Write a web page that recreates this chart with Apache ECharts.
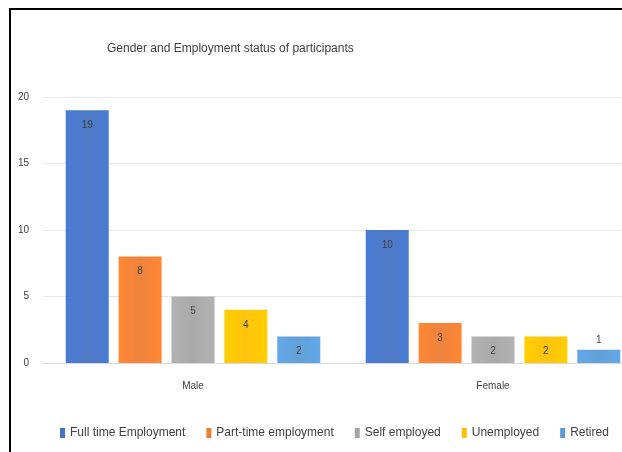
<!DOCTYPE html>
<html lang="en">
  <head>
    <meta charset="UTF-8" />
    <title>Gender and Employment status of participants</title>
    <style>
      html, body { margin: 0; padding: 0; background: #fff; }
      #main { width: 622px; height: 452px; }
    </style>
  </head>
  <body>
    <div id="main"></div>
    <script src="https://cdn.jsdelivr.net/npm/echarts@6/dist/echarts.min.js"></script>
    <script>
      // data
      const genders = ["Male", "Female"];
      const statuses = ["Full time Employment", "Part-time employment", "Self employed", "Unemployed", "Retired"];
      const fullTime = [19, 10];
      const partTime = [8, 3];
      const selfEmployed = [5, 2];
      const unemployed = [4, 2];
      const retired = [2, 1];
      const yTicks = [0, 5, 10, 15, 20];

      const colours = ["#4472C4", "#ED7D31", "#A5A5A5", "#FFC000", "#5B9BD5"];
      const font = "'Liberation Sans', sans-serif";

      const myChart = echarts.init(document.getElementById("main"));

      // slight excel-like shading on bars
      function shade(c) {
        return new echarts.graphic.LinearGradient(0, 0, 1, 0, [
          { offset: 0, color: echarts.color.lift(c, -0.08) },
          { offset: 0.5, color: echarts.color.lift(c, 0.06) },
          { offset: 1, color: echarts.color.lift(c, -0.08) }
        ]);
      }

      const values = [fullTime, partTime, selfEmployed, unemployed, retired];
      const series = statuses.map((name, i) => ({
        name: name,
        type: "bar",
        barWidth: 43,
        barGap: "23%",
        itemStyle: { color: shade(colours[i]) },
        label: {
          show: true,
          position: "insideTop",
          distance: 10,
          color: "#404040",
          fontSize: 10,
          fontFamily: font
        },
        // too-short bars get their label above the bar
        data: values[i].map((v) =>
          v < 2 ? { value: v, label: { position: "top", distance: 4 } } : v
        )
      }));

      const option = {
        animation: false,
        textStyle: { fontFamily: font },
        graphic: [
          {
            type: "rect",
            shape: { x: 10, y: 9, width: 700, height: 500 },
            style: { fill: "none", stroke: "#000", lineWidth: 2 },
            z: 100
          }
        ],
        title: {
          text: "Gender and Employment status of participants",
          left: 102,
          top: 38,
          textStyle: { fontSize: 12, fontWeight: "normal", color: "#404040", fontFamily: font }
        },
        legend: {
          bottom: 8,
          left: 55,
          itemWidth: 5,
          itemHeight: 10,
          itemGap: 21,
          icon: "rect",
          textStyle: { fontSize: 12, color: "#404040", fontFamily: font },
          data: statuses.map((s, i) => ({ name: s, itemStyle: { color: colours[i] } }))
        },
        grid: { left: 43, top: 97, width: 600, height: 266, outerBoundsMode: "none" },
        xAxis: {
          type: "category",
          data: genders,
          axisTick: { show: false },
          axisLine: { lineStyle: { color: "#d9d9d9" } },
          axisLabel: { margin: 18, fontSize: 10, color: "#404040", fontFamily: font }
        },
        yAxis: {
          type: "value",
          min: yTicks[0],
          max: yTicks[yTicks.length - 1],
          interval: 5,
          axisLine: { show: false },
          axisTick: { show: false },
          splitLine: { lineStyle: { color: "#e6e6e6" } },
          axisLabel: { margin: 14, fontSize: 10, color: "#404040", padding: [0, 0, 8, 0], fontFamily: font }
        },
        series: series
      };

      myChart.setOption(option);
    </script>
  </body>
</html>
